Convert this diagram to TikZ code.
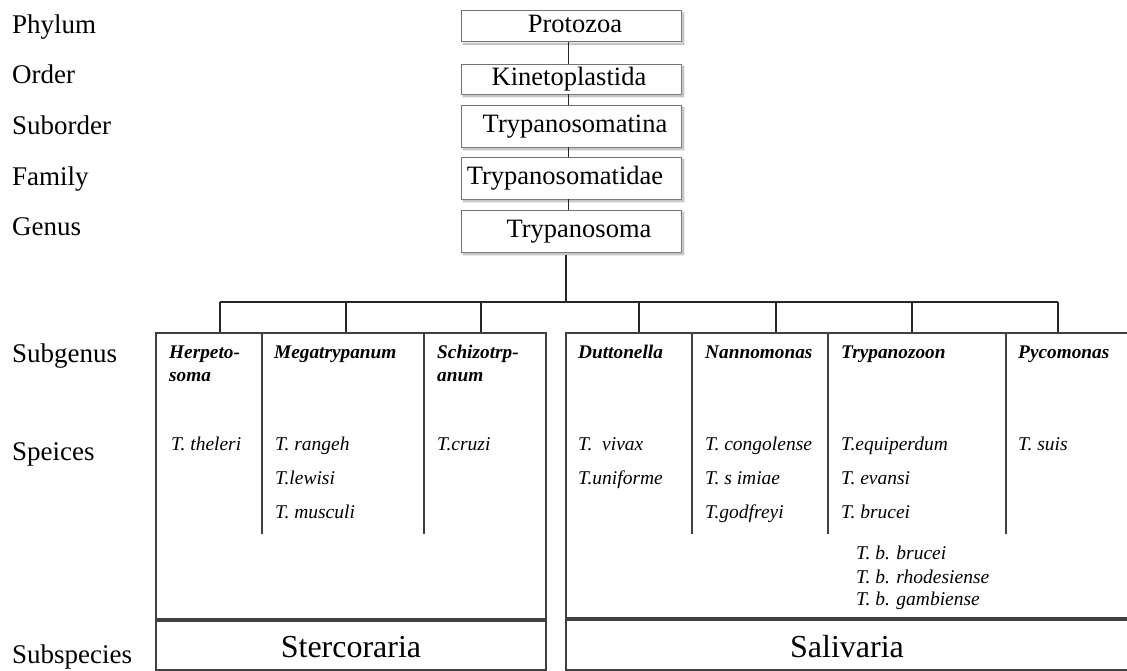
\documentclass[tikz,border=0pt]{standalone}
\usepackage{fontspec}
\setmainfont{Liberation Serif}
\begin{document}
\begin{tikzpicture}[x=1pt,y=-1pt,
  rank/.style={anchor=base west,inner sep=0pt,font=\fontsize{27}{30}\selectfont},
  taxon/.style={draw=black!55,line width=0.8pt,fill=white,
    minimum width=220,minimum height=#1,inner sep=0pt,
    font=\fontsize{26.5}{30}\selectfont,text height=18.5pt,text depth=5.8pt},
  boxshadow/.style={fill=black!22},
  link/.style={draw=black!85,line width=1pt},
  bar/.style={draw=black!85,line width=1.6pt},
  frame/.style={draw=black!75,line width=1.6pt},
  subgen/.style={anchor=base west,inner sep=0pt,font=\fontsize{19.3}{22}\selectfont\bfseries\itshape},
  spec/.style={anchor=base west,inner sep=0pt,font=\fontsize{19.5}{22}\selectfont\itshape},
  clade/.style={anchor=base,inner sep=0pt,font=\fontsize{32}{34}\selectfont}]
\clip (0,0) rectangle (1127,670);
\fill[white] (0,0) rectangle (1127,670);

% rank names on the left
\node[rank] (lphylum)  at (12,33)  {Phylum};
\node[rank] (lorder)   at (12,83)  {Order};
\node[rank] (lsubord)  at (12,134) {Suborder};
\node[rank] (lfamily)  at (12,185) {Family};
\node[rank] (lgenus)   at (12,235) {Genus};
\node[rank] (lsubgen)  at (12,362) {Subgenus};
\node[rank] (lspec)    at (12,460) {Speices};
\node[rank] (lsubspec) at (12,663) {Subspecies};

% higher taxa
\node[taxon=31] (protozoa) at (571,26.2) {\hspace*{8pt}Protozoa};
\node[taxon=30] (kineto)   at (571,79)   {Kinetoplastida\hspace*{4pt}};
\node[taxon=42] (tmatina)  at (571,126)  {\hspace*{8pt}Trypanosomatina};
\node[taxon=42] (tmatidae) at (571,178)  {Trypanosomatidae\hspace*{12pt}};
\node[taxon=42] (genus)    at (571,231)  {\hspace*{16pt}Trypanosoma};

% soft shadow along the right and lower edges of each box
\foreach \b in {protozoa,kineto,tmatina,tmatidae,genus}
  \fill[boxshadow] ([shift={(0.4,2)}]\b.north east) -- ([shift={(3,2)}]\b.north east)
    -- ([shift={(3,3)}]\b.south east) -- ([shift={(2,3)}]\b.south west)
    -- ([shift={(2,0.4)}]\b.south west) -- ([shift={(0.4,0.4)}]\b.south east) -- cycle;

\coordinate (spine) at (568,0);
\draw[link] (protozoa.south -| spine) -- (kineto.north -| spine);
\draw[link] (kineto.south -| spine) -- (tmatina.north -| spine);
\draw[link] (tmatina.south -| spine) -- (tmatidae.north -| spine);
\draw[link] (tmatidae.south -| spine) -- (genus.north -| spine);

% branching to the subgenera
\coordinate (bus) at (566,302);
\draw[bar] ([yshift=-3pt]genus.south -| bus) -- (bus);
\foreach \x [count=\i] in {220,346,481,639,776,912,1058}
  \coordinate (top\i) at (\x,333);
\draw[bar] (top1 |- bus) -- (top7 |- bus);
\foreach \i in {1,...,7}
  \draw[bar] (top\i |- bus) -- (top\i);

% Stercoraria frame
\draw[frame] (156,333) rectangle (546,619);
\draw[frame] (156,621) rectangle (546,670);
\foreach \x in {262,424}
  \draw[frame] (\x,333) -- (\x,534);

% Salivaria frame
\draw[frame] (566,333) rectangle (1140,618);
\draw[frame] (566,620) rectangle (1140,670);
\foreach \x in {692,828,1006}
  \draw[frame] (\x,333) -- (\x,534);

% subgenera
\node[subgen] (herp1) at (169,358) {Herpeto-};
\node[subgen] (herp2) at (169,381) {soma};
\node[subgen] (mega)  at (274,358) {Megatrypanum};
\node[subgen] (schi1) at (437,358) {Schizotrp-};
\node[subgen] (schi2) at (437,381) {anum};
\node[subgen] (dutt)  at (578,358) {Duttonella};
\node[subgen] (nann)  at (705,358) {Nannomonas};
\node[subgen] (tzoon) at (841,358) {Trypanozoon};
\node[subgen] (pyco)  at (1018,358) {Pycomonas};

% species
\node[spec] (theleri)  at (171,450) {T. theleri};
\node[spec] (rangeh)   at (275,450) {T. rangeh};
\node[spec] (lewisi)   at (275,484) {T.lewisi};
\node[spec] (musculi)  at (275,518) {T. musculi};
\node[spec] (cruzi)    at (437,450) {T.cruzi};
\node[spec] (vivax)    at (578,450) {T.\ \ vivax};
\node[spec] (uniforme) at (578,484) {T.uniforme};
\node[spec] (congo)    at (705,450) {T. congolense};
\node[spec] (simiae)   at (705,484) {T. s imiae};
\node[spec] (godfreyi) at (705,518) {T.godfreyi};
\node[spec] (equip)    at (841,450) {T.equiperdum};
\node[spec] (evansi)   at (841,484) {T. evansi};
\node[spec] (brucei)   at (841,518) {T. brucei};
\node[spec] (suis)     at (1018,450) {T. suis};

% subspecies of T. brucei
\node[spec] (tbb) at (856,559) {T. b. brucei};
\node[spec] (tbr) at (856,583) {T. b. rhodesiense};
\node[spec] (tbg) at (856,605) {T. b. gambiense};

% sections
\node[clade] (sterco) at (351,657) {Stercoraria};
\node[clade] (saliv)  at (847,657) {Salivaria};
\end{tikzpicture}
\end{document}
